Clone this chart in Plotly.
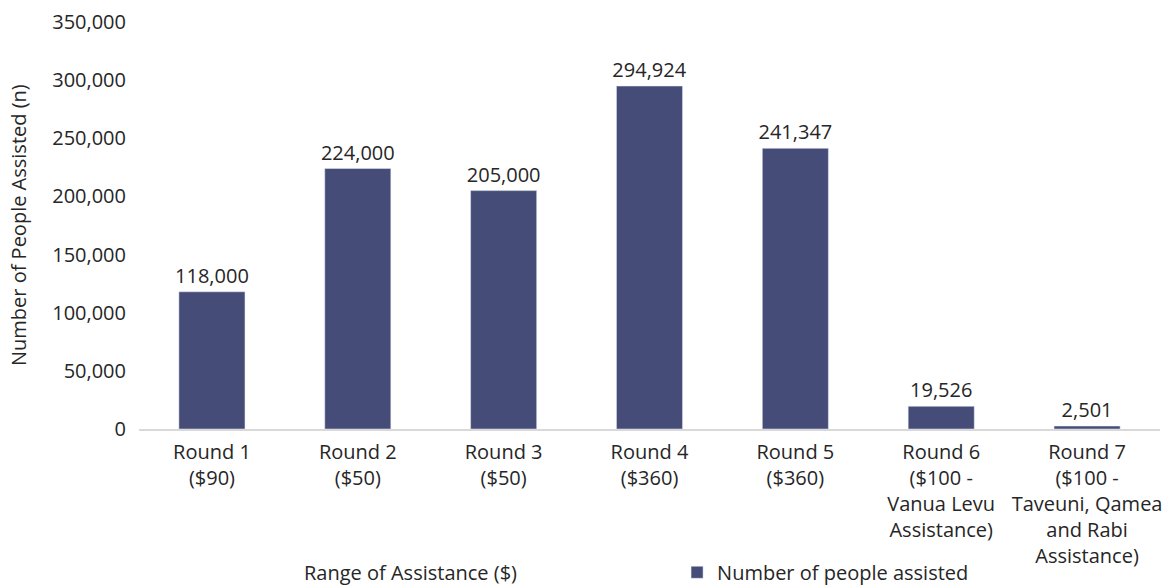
import plotly.graph_objects as go

categories = [
    "Round 1<br>($90)",
    "Round 2<br>($50)",
    "Round 3<br>($50)",
    "Round 4<br>($360)",
    "Round 5<br>($360)",
    "Round 6<br>($100 -<br>Vanua Levu<br>Assistance)",
    "Round 7<br>($100 -<br>Taveuni, Qamea<br>and Rabi<br>Assistance)",
]
people_assisted = [118000, 224000, 205000, 294924, 241347, 19526, 2501]
y_ticks = [0, 50000, 100000, 150000, 200000, 250000, 300000, 350000]

BAR = "#454C78"
TEXT = "#262626"
FONT = "Open Sans"
SIZE = 20

fig = go.Figure(
    go.Bar(
        x=categories,
        y=people_assisted,
        name="Number of people assisted",
        marker_color=BAR,
        text=[f"{v:,}" for v in people_assisted],
        textposition="outside",
        constraintext="none",
        cliponaxis=False,
        textfont=dict(size=SIZE, color=TEXT, family=FONT),
    )
)

fig.update_layout(
    width=1164,
    height=588,
    margin=dict(l=139, r=4, t=22, b=159, autoexpand=False),
    paper_bgcolor="white",
    plot_bgcolor="white",
    bargap=0.547,
    font=dict(family=FONT, size=SIZE, color=TEXT),
    showlegend=True,
    legend=dict(
        orientation="h",
        x=0.527,
        y=-0.352,
        xanchor="left",
        yanchor="middle",
        font=dict(size=SIZE, color=TEXT),
        itemwidth=30,
    ),
    xaxis=dict(
        showline=True,
        linecolor="#D9D9D9",
        linewidth=2,
        showgrid=False,
        ticks="",
        tickfont=dict(size=SIZE, color=TEXT),
        ticklabelstandoff=4,
        automargin=False,
    ),
    yaxis=dict(
        range=[0, 350000],
        tickvals=y_ticks,
        tickformat=",",
        showgrid=False,
        zeroline=False,
        showline=False,
        ticks="",
        tickfont=dict(size=SIZE, color=TEXT),
        ticklabelstandoff=12,
        automargin=False,
    ),
    annotations=[
        dict(
            text="Number of People Assisted (n)",
            textangle=-90,
            xref="paper",
            yref="paper",
            x=-0.118,
            y=0.5,
            xanchor="center",
            yanchor="middle",
            showarrow=False,
            font=dict(size=SIZE, color=TEXT),
        ),
        dict(
            text="Range of Assistance ($)",
            xref="paper",
            yref="paper",
            x=0.266,
            y=-0.352,
            xanchor="center",
            yanchor="middle",
            showarrow=False,
            font=dict(size=SIZE, color=TEXT),
        ),
    ],
)

fig.write_html("out.html")
